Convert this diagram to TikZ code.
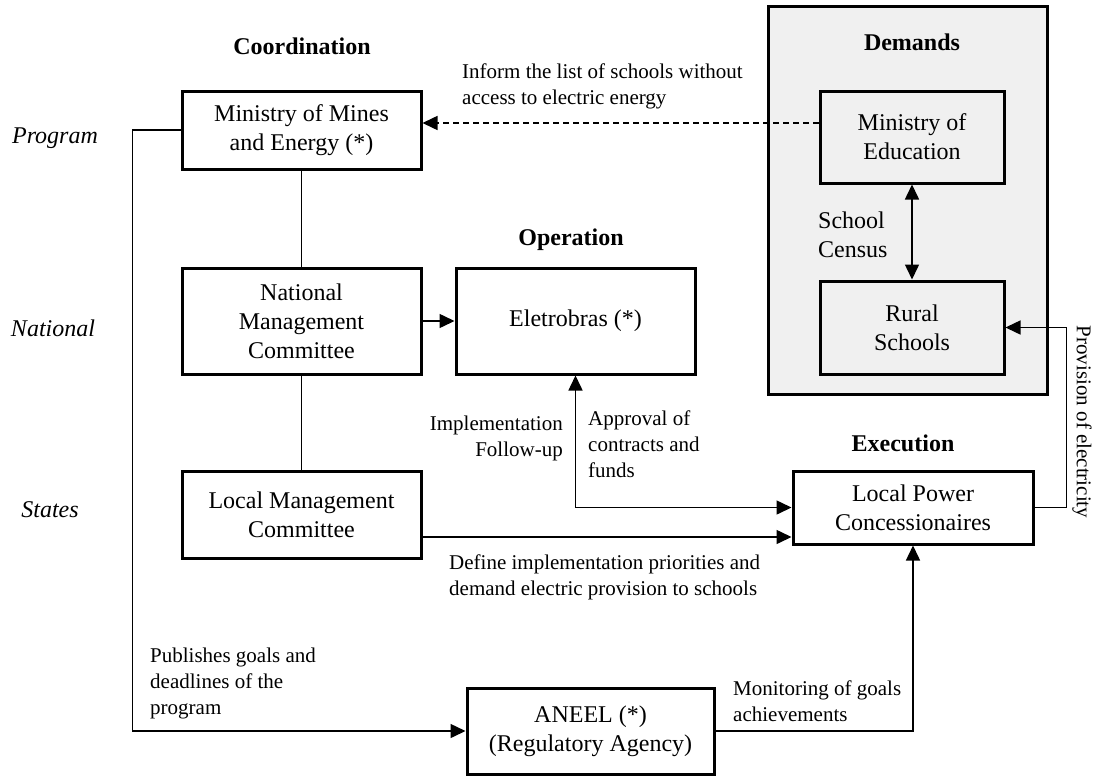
\documentclass[tikz,border=0pt]{standalone}
\usepackage{fontspec}
\setmainfont{Liberation Serif}
\usetikzlibrary{arrows.meta}

\begin{document}
\begin{tikzpicture}[x=1pt, y=-1pt,
        font=\fontsize{24}{29}\selectfont,
        box/.style={draw=black, line width=3pt, align=center, inner sep=0pt},
        flow/.style={line width=1.5pt, -{Triangle[length=15pt,width=14pt]}},
        both/.style={line width=1.5pt, {Triangle[length=15pt,width=14pt]}-{Triangle[length=15pt,width=14pt]}},
        link/.style={line width=1.5pt},
        lbl/.style={inner sep=0pt, font=\fontsize{21}{26}\selectfont},
        head/.style={inner sep=0pt, font=\fontsize{24}{29}\selectfont\bfseries},
        level/.style={inner sep=0pt, font=\fontsize{24}{29}\selectfont\itshape}]
        \useasboundingbox (0,0) rectangle (1094,776);
        % demands area
        \filldraw[fill=black!6, draw=black, line width=3pt](768,7) rectangle (1047,394);
        \node[head] (demands) at (912,42) {Demands};
        \node[box, fill=black!6, minimum width=184pt, minimum height=92pt] (medu_box) at (912,137) {Ministry of\\Education};
        \node[box, fill=black!6, minimum width=184pt, minimum height=93pt] (rural_box) at (912,327.5) {Rural\\Schools};
        \node[inner sep=0pt, align=left, anchor=west] (census) at (818,235) {School\\Census};
        % main boxes
        \node[head] (coord) at (302,46) {Coordination};
        \node[head] (oper) at (571,240) {Operation};
        \node[head] (exec) at (903,443) {Execution};
        \node[box, minimum width=239pt, minimum height=78pt] (mme_box) at (301.5,130) {Ministry of Mines\\and Energy (*)};
        \node[box, minimum width=239pt, minimum height=106pt] (nmc_box) at (301.5,321) {National\\Management\\Committee};
        \node[box, minimum width=239pt, minimum height=106pt] (eletro_box) at (575.5,321) {Eletrobras (*)};
        \node[box, minimum width=239pt, minimum height=87pt] (lmc_box) at (301.5,514.5) {Local Management\\Committee};
        \node[box, minimum width=240pt, minimum height=73pt] (lpc_box) at (913,507.5) {Local Power\\Concessionaires};
        \node[box, minimum width=247pt, minimum height=86pt] (aneel_box) at (590.5,731) {ANEEL (*)\\(Regulatory Agency)};
        % levels
        \node[level] (prog) at (55,138) {Program};
        \node[level] (natl) at (53,328) {National};
        \node[level] (stat) at (50,510) {States};
        % connector labels
        \node[lbl, align=left, anchor=west] (inform) at (462,86) {Inform the list of schools without\\access to electric energy};
        \node[lbl, align=right, anchor=east] (follow) at (563,438) {Implementation\\Follow-up};
        \node[lbl, align=left, anchor=west] (approv) at (588,444) {Approval of\\contracts and\\funds};
        \node[lbl, align=left, anchor=west] (define) at (449,577) {Define implementation priorities and\\demand electric provision to schools};
        \node[lbl, align=left, anchor=west] (publ) at (150,683) {Publishes goals and\\deadlines of the\\program};
        \node[lbl, align=left, anchor=west] (monit) at (733,701) {Monitoring of goals\\achievements};
        \node[lbl, rotate=-90] (prov) at (1082,422) {Provision of electricity};
        % connectors
        \draw[flow, dash pattern=on 6pt off 4pt] ([yshift=14pt]medu_box.west) -- ([yshift=7pt]mme_box.east);
        \draw[both] (medu_box.south) -- (rural_box.north);
        \draw[link] (mme_box.south) -- (nmc_box.north);
        \draw[link] (nmc_box.south) -- (lmc_box.north);
        \draw[flow] (nmc_box.east) -- (eletro_box.west);
        \draw[both] (eletro_box.south) |- (lpc_box.west);
        \draw[flow] ([yshift=-22.5pt]lmc_box.east) -- ([yshift=-29.5pt]lpc_box.west);
        \draw[flow] (mme_box.west) -- ++(-48,0) |- (aneel_box.west);
        \draw[flow] (aneel_box.east) -| (lpc_box.south);
        \draw[flow] (lpc_box.east) -- ++(32,0) |- (rural_box.east);
\end{tikzpicture}
\end{document}
